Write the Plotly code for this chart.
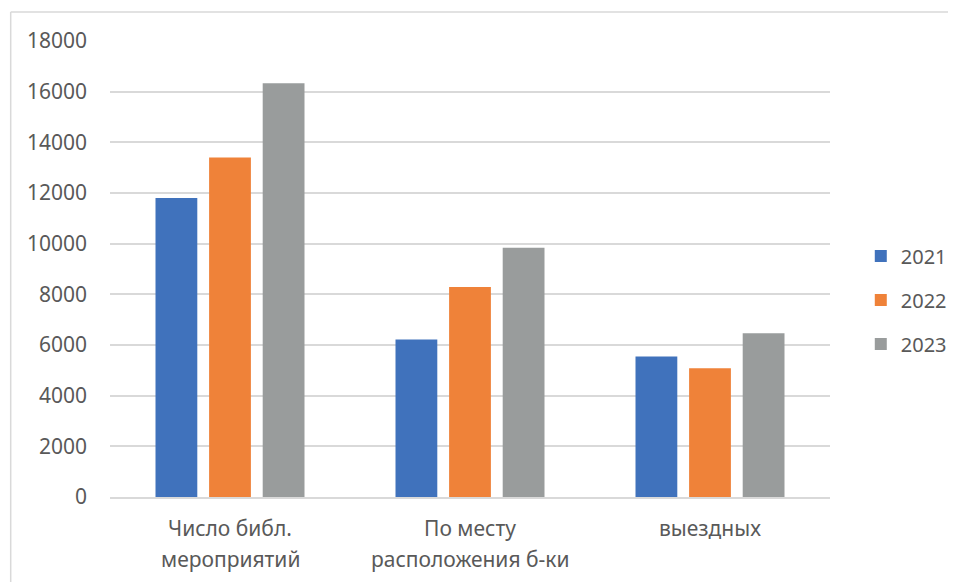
import plotly.graph_objects as go

categories = ["Число библ.<br>мероприятий", "По месту<br>расположения б-ки", "выездных"]
years = ["2021", "2022", "2023"]
values_2021 = [11800, 6220, 5550]
values_2022 = [13400, 8290, 5080]
values_2023 = [16330, 9840, 6460]
colors = ["#4072BC", "#EF8239", "#999C9C"]
y_ticks = [0, 2000, 4000, 6000, 8000, 10000, 12000, 14000, 16000, 18000]

W, H = 956, 582
OFF = 8  # page offset of the figure in the screenshot
# target plot area in screen pixels
SX0, SX1, SY0, SY1 = 110, 835, 41, 497
L = SX0 - OFF
T = SY0 - OFF
R = W - (SX1 - OFF)
B = H - (SY1 - OFF)
pw, ph = W - L - R, H - T - B

def px_x(p):
    return (p - SX0) / pw

def px_y(p):
    return (SY1 - p) / ph

fig = go.Figure()
for name, vals, col in zip(years, [values_2021, values_2022, values_2023], colors):
    fig.add_trace(go.Bar(x=categories, y=vals, name=name, marker=dict(color=col, line=dict(width=0)),
                         legendgroup=name))

font_color = "#595959"
FONT = "Noto Sans"
FS = 21

annotations = []
for cat in categories:
    for j, line in enumerate(cat.split("<br>")):
        annotations.append(dict(x=cat, xref="x", y=px_y(528 + 31 * j), yref="paper",
                                text=line, showarrow=False, yanchor="middle",
                                font=dict(family=FONT, size=FS, color=font_color)))

fig.update_layout(
    width=W, height=H,
    margin=dict(l=L, r=R, t=T, b=B),
    paper_bgcolor="white", plot_bgcolor="white",
    barmode="group", bargap=0.33, bargroupgap=0.22,
    font=dict(family=FONT, size=FS, color=font_color),
    xaxis=dict(showticklabels=False, showline=True, linecolor="#D9D9D9", linewidth=1.5,
               showgrid=False, ticks=""),
    yaxis=dict(range=[0, 18000], tickvals=y_ticks, tickformat="d", showgrid=True,
               gridcolor="#D9D9D9", gridwidth=1.5, zeroline=False, showline=False, ticks="",
               ticklabelstandoff=22, tickfont=dict(family=FONT, size=FS, color=font_color)),
    legend=dict(x=px_x(866), xanchor="left", y=px_y(300), yanchor="middle",
                tracegroupgap=15, font=dict(family=FONT, size=20, color=font_color),
                itemwidth=30, bgcolor="rgba(0,0,0,0)"),
    annotations=annotations,
    shapes=[
        dict(type="line", xref="paper", yref="paper", x0=px_x(10), x1=px_x(10),
             y0=px_y(12), y1=px_y(600), line=dict(color="#D9D9D9", width=1.5)),
        dict(type="line", xref="paper", yref="paper", x0=px_x(10), x1=px_x(970),
             y0=px_y(12), y1=px_y(12), line=dict(color="#D9D9D9", width=1.5)),
    ],
)

fig.write_html("out.html")
